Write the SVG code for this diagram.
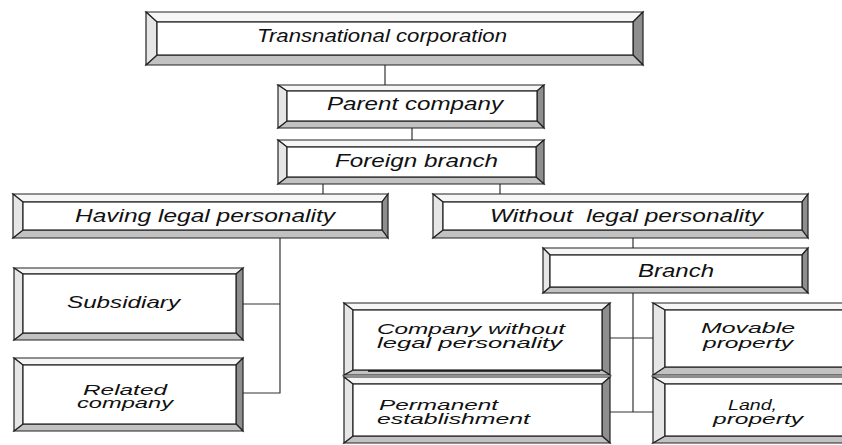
<svg xmlns="http://www.w3.org/2000/svg" width="842" height="445" viewBox="0 0 842 445">
<style>
.t{fill:#f6f6f6;stroke:#222;stroke-width:1.2}
.l{fill:#e6e6e6;stroke:#222;stroke-width:1.2}
.b{fill:#c2c2c2;stroke:#222;stroke-width:1.2}
.r{fill:#8e8e8e;stroke:#222;stroke-width:1.2}
.f{fill:#ffffff;stroke:#222;stroke-width:1.2}
.c{stroke:#333;stroke-width:1.2;fill:none}
text{font-family:"Liberation Sans",Arial,sans-serif;font-style:italic;fill:#111}
.s{font-size:14px}
</style>
<rect width="842" height="445" fill="#ffffff"/>
<g id="connectors">
<line class="c" x1="385" y1="65" x2="385" y2="85"/>
<line class="c" x1="412" y1="128" x2="412" y2="140"/>
<line class="c" x1="323" y1="184" x2="323" y2="194"/>
<line class="c" x1="500" y1="184" x2="500" y2="194"/>
<polyline class="c" points="280,230 280,393 237,393"/>
<line class="c" x1="237" y1="304" x2="280" y2="304"/>
<line class="c" x1="633" y1="230" x2="633" y2="248"/>
<line class="c" x1="633" y1="293" x2="633" y2="412"/>
<line class="c" x1="603" y1="338" x2="653" y2="338"/>
<line class="c" x1="603" y1="412" x2="653" y2="412"/>
</g>
<g id="n1">
<polygon class="t" points="146,12 643,12 633,22 157,22"/>
<polygon class="r" points="643,12 643,65 633,55 633,22"/>
<polygon class="b" points="146,65 643,65 633,55 157,55"/>
<polygon class="l" points="146,12 157,22 157,55 146,65"/>
<rect class="f" x="157" y="22" width="476" height="33"/>
<text x="257" y="42" font-size="19" textLength="250" lengthAdjust="spacingAndGlyphs">Transnational corporation</text>
</g>
<g id="n2">
<polygon class="t" points="278,85 544,85 537,91 287,91"/>
<polygon class="r" points="544,85 544,128 537,121 537,91"/>
<polygon class="b" points="278,128 544,128 537,121 287,121"/>
<polygon class="l" points="278,85 287,91 287,121 278,128"/>
<rect class="f" x="287" y="91" width="250" height="30"/>
<text x="327" y="110" font-size="18" textLength="176" lengthAdjust="spacingAndGlyphs">Parent company</text>
</g>
<g id="n3">
<polygon class="t" points="278,140 544,140 536,147 287,147"/>
<polygon class="r" points="544,140 544,184 536,177 536,147"/>
<polygon class="b" points="278,184 544,184 536,177 287,177"/>
<polygon class="l" points="278,140 287,147 287,177 278,184"/>
<rect class="f" x="287" y="147" width="249" height="30"/>
<text x="335" y="167" font-size="19" textLength="163" lengthAdjust="spacingAndGlyphs">Foreign branch</text>
</g>
<g id="n4">
<polygon class="t" points="13,194 388,194 382,202 23,202"/>
<polygon class="r" points="388,194 388,238 382,230 382,202"/>
<polygon class="b" points="13,238 388,238 382,230 23,230"/>
<polygon class="l" points="13,194 23,202 23,230 13,238"/>
<rect class="f" x="23" y="202" width="359" height="28"/>
<text x="75" y="222" font-size="19" textLength="260" lengthAdjust="spacingAndGlyphs">Having legal personality</text>
</g>
<g id="n5">
<polygon class="t" points="433,194 808,194 802,202 443,202"/>
<polygon class="r" points="808,194 808,238 802,230 802,202"/>
<polygon class="b" points="433,238 808,238 802,230 443,230"/>
<polygon class="l" points="433,194 443,202 443,230 433,238"/>
<rect class="f" x="443" y="202" width="359" height="28"/>
<text x="490" y="222" font-size="19" textLength="273" lengthAdjust="spacingAndGlyphs" xml:space="preserve">Without  legal personality</text>
</g>
<g id="n6">
<polygon class="t" points="543,248 808,248 802,255 550,255"/>
<polygon class="r" points="808,248 808,293 802,287 802,255"/>
<polygon class="b" points="543,293 808,293 802,287 550,287"/>
<polygon class="l" points="543,248 550,255 550,287 543,293"/>
<rect class="f" x="550" y="255" width="252" height="32"/>
<text x="638" y="277" font-size="19" textLength="76" lengthAdjust="spacingAndGlyphs">Branch</text>
</g>
<g id="n7">
<polygon class="t" points="14,268 243,268 236,274 23,274"/>
<polygon class="r" points="243,268 243,340 236,333 236,274"/>
<polygon class="b" points="14,340 243,340 236,333 23,333"/>
<polygon class="l" points="14,268 23,274 23,333 14,340"/>
<rect class="f" x="23" y="274" width="213" height="59"/>
<text x="67" y="308" font-size="17" textLength="113" lengthAdjust="spacingAndGlyphs">Subsidiary</text>
</g>
<g id="n8">
<polygon class="t" points="14,358 243,358 236,365 23,365"/>
<polygon class="r" points="243,358 243,431 236,424 236,365"/>
<polygon class="b" points="14,431 243,431 236,424 23,424"/>
<polygon class="l" points="14,358 23,365 23,424 14,431"/>
<rect class="f" x="23" y="365" width="213" height="59"/>
<text class="s" x="83" y="395" textLength="84" lengthAdjust="spacingAndGlyphs">Related</text>
<text class="s" x="77" y="408" textLength="96" lengthAdjust="spacingAndGlyphs">company</text>
</g>
<g id="n9">
<polygon class="t" points="344,303 610,303 602,310 353,310"/>
<polygon class="r" points="610,303 610,375 602,370 602,310"/>
<polygon class="b" points="344,375 610,375 602,370 353,370"/>
<polygon class="l" points="344,303 353,310 353,370 344,375"/>
<rect class="f" x="353" y="310" width="249" height="60"/>
<line x1="368" y1="371" x2="600" y2="371" stroke="#111" stroke-width="1.6"/>
<text class="s" x="377" y="334" textLength="188" lengthAdjust="spacingAndGlyphs">Company without</text>
<text class="s" x="377" y="348" textLength="185" lengthAdjust="spacingAndGlyphs">legal personality</text>
</g>
<g id="n10">
<polygon class="t" points="344,377 610,377 602,384 353,384"/>
<polygon class="r" points="610,377 610,443 602,436 602,384"/>
<polygon class="b" points="344,443 610,443 602,436 353,436"/>
<polygon class="l" points="344,377 353,384 353,436 344,443"/>
<rect class="f" x="353" y="384" width="249" height="52"/>
<text class="s" x="379" y="410" textLength="119" lengthAdjust="spacingAndGlyphs">Permanent</text>
<text class="s" x="377" y="424" textLength="153" lengthAdjust="spacingAndGlyphs">establishment</text>
</g>
<g id="n11">
<polygon class="t" points="653,303 860,303 852,310 665,310"/>
<polygon class="b" points="653,375 860,375 852,367 665,367"/>
<polygon class="l" points="653,303 665,310 665,367 653,375"/>
<rect class="f" x="665" y="310" width="190" height="57"/>
<text class="s" x="701" y="333" textLength="94" lengthAdjust="spacingAndGlyphs">Movable</text>
<text class="s" x="703" y="348" textLength="90" lengthAdjust="spacingAndGlyphs">property</text>
</g>
<g id="n12">
<polygon class="t" points="653,377 860,377 852,384 665,384"/>
<polygon class="b" points="653,443 860,443 852,436 665,436"/>
<polygon class="l" points="653,377 665,384 665,436 653,443"/>
<rect class="f" x="665" y="384" width="190" height="52"/>
<text class="s" x="728" y="410" textLength="49" lengthAdjust="spacingAndGlyphs">Land,</text>
<text class="s" x="713" y="424" textLength="90" lengthAdjust="spacingAndGlyphs">property</text>
</g>
</svg>
